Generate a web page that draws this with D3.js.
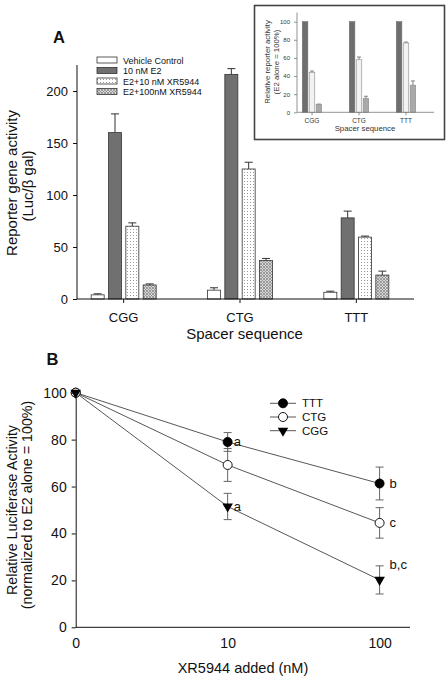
<!DOCTYPE html>
<html><head><meta charset="utf-8">
<script src="https://cdn.jsdelivr.net/npm/d3@7/dist/d3.min.js"></script>
<style>body{margin:0;background:#fff}svg{display:block;font-family:Arial,"Liberation Sans",sans-serif}</style>
</head><body><svg id="c" width="447" height="682"></svg>
<script>
// ---- Panel A data ----
const catsA = ["CGG","CTG","TTT"];
const seriesA = ["Vehicle Control","10 nM E2","E2+10 nM XR5944","E2+100nM XR5944"];
const vehicle = [4, 8.5, 6.5];
const e2 = [160, 216, 78];
const xr10 = [70, 125, 59.5];
const xr100 = [13.5, 37, 23];
const vehicleErr = [1, 2.3, 1];
const e2Err = [18, 5.5, 6.5];
const xr10Err = [3.2, 6.5, 1];
const xr100Err = [1, 2, 3.8];
const ticksA = [0, 50, 100, 150, 200];
// ---- Inset data ----
const insetSeries = ["E2","E2+10 nM","E2+100 nM"];
const insE2 = [100, 100, 100];
const ins10 = [44, 58, 76.5];
const ins100 = [8.7, 15.5, 30];
const ins10Err = [1.5, 3, 1];
const ins100Err = [0.4, 2.2, 4.6];
const ticksInset = [0, 20, 40, 60, 80, 100];
// ---- Panel B data ----
const dosesB = ["0", "10", "100"];
const seriesB = ["TTT","CTG","CGG"];
const tttB = [100, 79, 61.3];
const ctgB = [100, 69.2, 44.5];
const cggB = [100, 51.5, 20.2];
const tttErr = [0, 4, 7];
const ctgErr = [0, 7, 6.5];
const cggErr = [0, 5.6, 6];
const annotB = [{s:"TTT", i:1, t:"a"}, {s:"CGG", i:1, t:"a"}, {s:"TTT", i:2, t:"b"}, {s:"CTG", i:2, t:"c"}, {s:"CGG", i:2, t:"b,c"}];
const ticksB = [0, 20, 40, 60, 80, 100];

const svg = d3.select("#c");
const defs = svg.append("defs");
// dotted pattern
const pd = defs.append("pattern").attr("id","dots").attr("patternUnits","userSpaceOnUse").attr("width",3).attr("height",3);
pd.append("rect").attr("width",3).attr("height",3).attr("fill","#fff");
pd.append("rect").attr("x",1).attr("y",1).attr("width",1).attr("height",1).attr("fill","#9a9a9a");
// crosshatch pattern
const ph = defs.append("pattern").attr("id","hatch").attr("patternUnits","userSpaceOnUse").attr("width",3).attr("height",3);
ph.append("rect").attr("width",3).attr("height",3).attr("fill","#d8d8d8");
ph.append("path").attr("d","M0,0L3,3M3,0L0,3").attr("stroke","#8a8a8a").attr("stroke-width",0.8);

// ================= Panel A =================
const yA = d3.scaleLinear().domain([0, 225]).range([299, 65]);
const xA = d3.scaleBand().domain(catsA).range([65.5, 414.5]);
const xsA = d3.scaleBand().domain(seriesA).range([-32.5, 32.5]).paddingInner(0.25);
const valsA = [vehicle, e2, xr10, xr100];
const errsA = [vehicleErr, e2Err, xr10Err, xr100Err];
const fillsA = ["#fff", "#707070", "url(#dots)", "url(#hatch)"];
const gA = svg.append("g");
seriesA.forEach((s, si) => {
  catsA.forEach((c, ci) => {
    const v = valsA[si][ci], e = errsA[si][ci];
    const x0 = xA(c) + xA.bandwidth()/2 + xsA(s);
    const w = xsA.bandwidth();
    const cx = x0 + w/2;
    gA.append("line").attr("x1",cx).attr("x2",cx).attr("y1",yA(v)).attr("y2",yA(v+e)).attr("stroke","#333").attr("stroke-width",1);
    gA.append("line").attr("x1",cx-4).attr("x2",cx+4).attr("y1",yA(v+e)).attr("y2",yA(v+e)).attr("stroke","#333").attr("stroke-width",1);
    gA.append("rect").attr("x",x0).attr("y",yA(v)).attr("width",w).attr("height",yA(0)-yA(v))
      .attr("fill",fillsA[si]).attr("stroke","#333").attr("stroke-width",0.8);
  });
});
// axes A
const axYA = d3.axisLeft(yA).tickValues(ticksA).tickSize(4).tickPadding(5).tickSizeOuter(0);
const gyA = svg.append("g").attr("transform","translate(77,0)").call(axYA);
gyA.select(".domain").attr("d", `M0,${yA(225)}V${yA(0)}`);
const gxA = svg.append("g").attr("transform",`translate(0,${yA(0)})`).call(d3.axisBottom(xA).tickSize(4).tickPadding(9).tickSizeOuter(0));
gxA.select(".domain").attr("d","M77,0H414");
[gyA, gxA].forEach(g => { g.selectAll("text").attr("font-size",13).attr("fill","#111").attr("font-family","Arial, Liberation Sans"); g.selectAll("line,path").attr("stroke","#111"); });
gxA.selectAll("text").attr("dy","0.71em").attr("y",14);
svg.append("text").attr("x",244.5).attr("y",339).attr("text-anchor","middle").attr("font-size",15).attr("fill","#111").text("Spacer sequence");
svg.append("text").attr("transform","translate(17,183) rotate(-90)").attr("text-anchor","middle").attr("font-size",15).attr("fill","#111").text("Reporter gene activity");
svg.append("text").attr("transform","translate(33,186) rotate(-90)").attr("text-anchor","middle").attr("font-size",15).attr("fill","#111").text("(Luc/β gal)");
svg.append("text").attr("x",53).attr("y",43).attr("font-size",16.5).attr("font-weight","bold").attr("fill","#111").text("A");
// legend A
const lgA = svg.append("g");
seriesA.forEach((s, i) => {
  const y = 57 + i*10.5;
  lgA.append("rect").attr("x",97).attr("y",y).attr("width",20).attr("height",6).attr("fill",fillsA[i]).attr("stroke","#333").attr("stroke-width",0.8);
  lgA.append("text").attr("x",123).attr("y",y+6.5).attr("font-size",9).attr("fill","#111").text(s);
});

// ================= Inset =================
svg.append("rect").attr("x",254.5).attr("y",5.5).attr("width",190).attr("height",134).attr("fill","#fff").attr("stroke","#444").attr("stroke-width",1.6);
const yI = d3.scaleLinear().domain([0, 110]).range([112.3, 12.6]);
const xI = d3.scaleBand().domain(catsA).range([288.5, 429.5]);
const xsI = d3.scaleBand().domain(insetSeries).range([-9.7, 9.7]).paddingInner(0.2);
const valsI = [insE2, ins10, ins100];
const errsI = [[0,0,0], ins10Err, ins100Err];
const fillsI = ["#6e6e6e", "#f2f2f2", "#a9a9a9"];
const strokesI = ["#6e6e6e", "#8a8a8a", "#8a8a8a"];
insetSeries.forEach((s, si) => {
  catsA.forEach((c, ci) => {
    const v = valsI[si][ci], e = errsI[si][ci];
    const x0 = xI(c) + xI.bandwidth()/2 + xsI(s);
    const w = xsI.bandwidth();
    const cx = x0 + w/2;
    if (e > 0) {
      svg.append("line").attr("x1",cx).attr("x2",cx).attr("y1",yI(v)).attr("y2",yI(v+e)).attr("stroke","#666").attr("stroke-width",0.8);
      svg.append("line").attr("x1",cx-2).attr("x2",cx+2).attr("y1",yI(v+e)).attr("y2",yI(v+e)).attr("stroke","#666").attr("stroke-width",0.8);
    }
    svg.append("rect").attr("x",x0).attr("y",yI(v)).attr("width",w).attr("height",yI(0)-yI(v))
      .attr("fill",fillsI[si]).attr("stroke",strokesI[si]).attr("stroke-width",0.6);
  });
});
const gyI = svg.append("g").attr("transform","translate(297,0)").call(d3.axisLeft(yI).tickValues(ticksInset).tickSize(3).tickPadding(4).tickSizeOuter(0));
gyI.select(".domain").attr("d",`M0,${yI(110)}V${yI(0)}`);
const gxI = svg.append("g").attr("transform",`translate(0,${yI(0)})`).call(d3.axisBottom(xI).tickSize(3).tickPadding(3).tickSizeOuter(0));
gxI.select(".domain").attr("d","M297,0H434");
[gyI, gxI].forEach(g => { g.selectAll("text").attr("font-size",6).attr("fill","#333").attr("font-family","Arial, Liberation Sans"); g.selectAll("line,path").attr("stroke","#777").attr("stroke-width",0.8); });
gxI.selectAll("text").attr("font-size",6.5);
svg.append("text").attr("x",365).attr("y",130.5).attr("text-anchor","middle").attr("font-size",7.8).attr("fill","#333").text("Spacer sequence");
svg.append("text").attr("transform","translate(270,62) rotate(-90)").attr("text-anchor","middle").attr("font-size",7.8).attr("fill","#333").text("Relative reporter activity");
svg.append("text").attr("transform","translate(278.5,62) rotate(-90)").attr("text-anchor","middle").attr("font-size",7.8).attr("fill","#333").text("(E2 alone = 100%)");

// ================= Panel B =================
const xB = d3.scaleLinear().domain([0, 2.2]).range([75.7, 410]);
const yB = d3.scaleLinear().domain([0, 100]).range([627.3, 392.7]);
const valsB = {TTT: tttB, CTG: ctgB, CGG: cggB};
const errsB = {TTT: tttErr, CTG: ctgErr, CGG: cggErr};
const gB = svg.append("g");
const line = d3.line().x((d,i) => xB(i)).y(d => yB(d));
seriesB.slice().reverse().forEach(s => {
  gB.append("path").attr("d", line(valsB[s])).attr("fill","none").attr("stroke","#444").attr("stroke-width",0.9);
});
seriesB.forEach(s => {
  valsB[s].forEach((v, i) => {
    const e = errsB[s][i];
    if (e > 0) {
      const cx = xB(i);
      gB.append("line").attr("x1",cx).attr("x2",cx).attr("y1",yB(v-e)).attr("y2",yB(v+e)).attr("stroke","#666").attr("stroke-width",1);
      [v-e, v+e].forEach(t => gB.append("line").attr("x1",cx-4).attr("x2",cx+4).attr("y1",yB(t)).attr("y2",yB(t)).attr("stroke","#666").attr("stroke-width",1));
    }
  });
});
function marker(g, s, x, y) {
  if (s === "CGG") {
    g.append("path").attr("d", d3.symbol(d3.symbolTriangle, 48)()).attr("transform",`translate(${x},${y}) rotate(180)`).attr("fill","#000");
  } else {
    g.append("circle").attr("cx",x).attr("cy",y).attr("r",4.5).attr("fill", s === "TTT" ? "#000" : "#fff").attr("stroke","#000").attr("stroke-width",0.9);
  }
}
seriesB.forEach(s => valsB[s].forEach((v, i) => marker(gB, s, xB(i), yB(v))));
// annotations
annotB.forEach(a => {
  const v = valsB[a.s][a.i];
  svg.append("text").attr("x", xB(a.i) + (a.i === 1 ? 6 : 10)).attr("y", yB(v + (a.t === "b,c" ? 6.5 : 0)) + 4.5)
    .attr("font-size",13).attr("fill","#111").text(a.t);
});
// axes B
const gyB = svg.append("g").attr("transform","translate(75.7,0)").call(d3.axisLeft(yB).tickValues(ticksB).tickSize(4).tickPadding(5).tickSizeOuter(0));
const gxB = svg.append("g").attr("transform",`translate(0,${yB(0)})`).call(d3.axisBottom(xB).tickValues([0,1,2]).tickFormat((d,i) => dosesB[i]).tickSize(0).tickPadding(11).tickSizeOuter(0));
gxB.select(".domain").attr("d",`M${xB(0)},0H410`);
[gyB, gxB].forEach(g => { g.selectAll("text").attr("font-size",14).attr("fill","#111").attr("font-family","Arial, Liberation Sans"); g.selectAll("line,path").attr("stroke","#111"); });
svg.append("text").attr("x",243).attr("y",673).attr("text-anchor","middle").attr("font-size",14.5).attr("fill","#111").text("XR5944 added (nM)");
svg.append("text").attr("transform","translate(17,510) rotate(-90)").attr("text-anchor","middle").attr("font-size",14.3).attr("fill","#111").text("Relative Luciferase Activity");
svg.append("text").attr("transform","translate(32,505) rotate(-90)").attr("text-anchor","middle").attr("font-size",14.3).attr("fill","#111").text("(normalized to E2 alone = 100%)");
svg.append("text").attr("x",46.5).attr("y",365).attr("font-size",16.5).attr("font-weight","bold").attr("fill","#111").text("B");
// legend B
seriesB.forEach((s, i) => {
  const y = 403.3 + i*13.7;
  svg.append("line").attr("x1",270).attr("x2",296).attr("y1",y).attr("y2",y).attr("stroke","#444").attr("stroke-width",0.9);
  marker(svg, s, 283, y);
  svg.append("text").attr("x",302).attr("y",y+4).attr("font-size",11.5).attr("fill","#111").text(s);
});
</script></body></html>
